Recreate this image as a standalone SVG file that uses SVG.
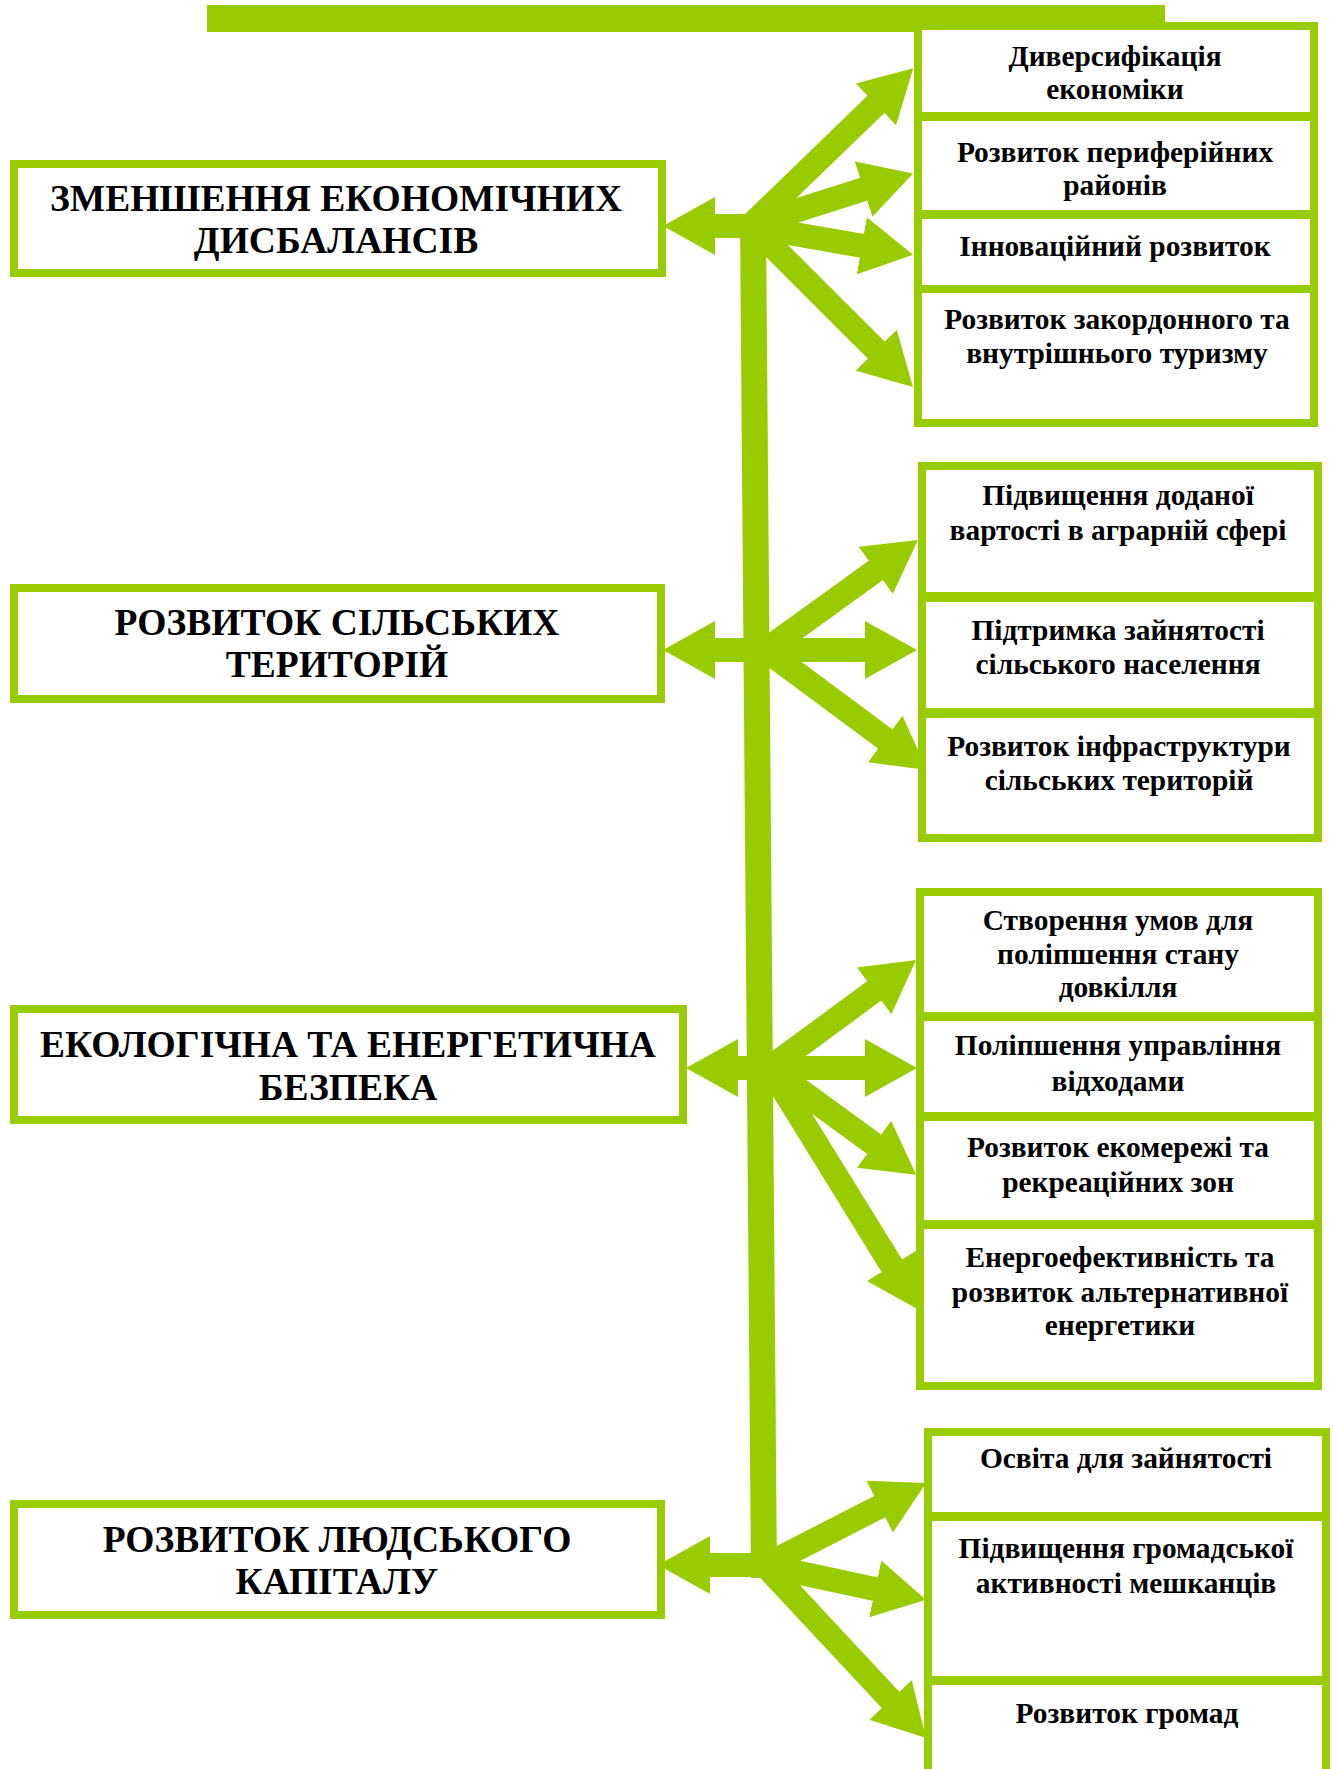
<svg xmlns="http://www.w3.org/2000/svg" width="1333" height="1769" viewBox="0 0 1333 1769">
  <style>
    .box { fill: #ffffff; stroke: #99CC00; stroke-width: 8; }
    .shaft { stroke: #99CC00; stroke-width: 24; fill: none; stroke-linecap: butt; }
    .trunk { stroke: #99CC00; stroke-width: 26; fill: none; }
    .big { font-family: "Liberation Serif", "Times New Roman", serif; font-weight: bold; font-size: 37.5px; fill: #000; text-anchor: middle; }
    .small { font-family: "Liberation Serif", "Times New Roman", serif; font-weight: bold; font-size: 29.4px; fill: #000; text-anchor: middle; }
  </style>
  <defs>
    <marker id="head" markerUnits="userSpaceOnUse" markerWidth="52" markerHeight="58" refX="2" refY="29" orient="auto">
      <path d="M0,0 L52,29 L0,58 Z" fill="#99CC00"/>
    </marker>
  </defs>
  <rect width="1333" height="1769" fill="#ffffff"/>

  <g id="top-bar">
    <rect x="207" y="5" width="958" height="27" fill="#99CC00"/>
  </g>

  <g id="connectors">
    <line class="trunk" x1="753" y1="220" x2="764" y2="1578"/>
    <!-- group 1 -->
    <line class="shaft" x1="758" y1="226" x2="713" y2="226" marker-end="url(#head)"/>
    <line class="shaft" x1="748" y1="228" x2="877.3" y2="103" marker-end="url(#head)"/>
    <line class="shaft" x1="748" y1="226" x2="865.5" y2="188.6" marker-end="url(#head)"/>
    <line class="shaft" x1="748" y1="226" x2="863.8" y2="246.1" marker-end="url(#head)"/>
    <line class="shaft" x1="748" y1="222" x2="877.6" y2="351.6" marker-end="url(#head)"/>
    <!-- group 2 -->
    <line class="shaft" x1="770" y1="650" x2="713" y2="650" marker-end="url(#head)"/>
    <line class="shaft" x1="760" y1="654" x2="877.4" y2="569.2" marker-end="url(#head)"/>
    <line class="shaft" x1="760" y1="650" x2="867" y2="650" marker-end="url(#head)"/>
    <line class="shaft" x1="760" y1="646" x2="886.8" y2="740.2" marker-end="url(#head)"/>
    <!-- group 3 -->
    <line class="shaft" x1="775" y1="1068" x2="736" y2="1068" marker-end="url(#head)"/>
    <line class="shaft" x1="764" y1="1072" x2="875.8" y2="989.7" marker-end="url(#head)"/>
    <line class="shaft" x1="764" y1="1068" x2="867" y2="1068" marker-end="url(#head)"/>
    <line class="shaft" x1="764" y1="1064" x2="875.7" y2="1145.4" marker-end="url(#head)"/>
    <line class="shaft" x1="766" y1="1062" x2="892.8" y2="1267.4" marker-end="url(#head)"/>
    <!-- group 4 -->
    <line class="shaft" x1="772" y1="1565" x2="708" y2="1565" marker-end="url(#head)"/>
    <line class="shaft" x1="758" y1="1569" x2="881.5" y2="1505.7" marker-end="url(#head)"/>
    <line class="shaft" x1="758" y1="1564" x2="877.2" y2="1589.4" marker-end="url(#head)"/>
    <line class="shaft" x1="760" y1="1560" x2="891.9" y2="1701.4" marker-end="url(#head)"/>
  </g>

  <!-- left nodes -->
  <g id="node-disbalance">
    <rect class="box" x="14" y="164" width="648" height="109"/>
    <text class="big" x="336" y="211">ЗМЕНШЕННЯ ЕКОНОМІЧНИХ</text>
    <text class="big" x="336" y="253">ДИСБАЛАНСІВ</text>
  </g>
  <g id="node-rural">
    <rect class="box" x="14" y="588" width="647" height="111"/>
    <text class="big" x="337" y="635">РОЗВИТОК СІЛЬСЬКИХ</text>
    <text class="big" x="337" y="677">ТЕРИТОРІЙ</text>
  </g>
  <g id="node-ecology">
    <rect class="box" x="14" y="1009" width="669" height="111"/>
    <text class="big" x="348" y="1057">ЕКОЛОГІЧНА ТА ЕНЕРГЕТИЧНА</text>
    <text class="big" x="348" y="1100">БЕЗПЕКА</text>
  </g>
  <g id="node-human">
    <rect class="box" x="14" y="1504" width="647" height="111"/>
    <text class="big" x="337" y="1552">РОЗВИТОК ЛЮДСЬКОГО</text>
    <text class="big" x="337" y="1594">КАПІТАЛУ</text>
  </g>

  <!-- group 1 right nodes -->
  <g id="node-diversification">
    <rect class="box" x="918" y="26" width="396" height="90"/>
    <text class="small" x="1115" y="66">Диверсифікація</text>
    <text class="small" x="1115" y="99">економіки</text>
  </g>
  <g id="node-peripheral">
    <rect class="box" x="918" y="117" width="396" height="97"/>
    <text class="small" x="1115" y="162">Розвиток периферійних</text>
    <text class="small" x="1115" y="195">районів</text>
  </g>
  <g id="node-innovation">
    <rect class="box" x="918" y="215" width="396" height="74"/>
    <text class="small" x="1115" y="256">Інноваційний розвиток</text>
  </g>
  <g id="node-tourism">
    <rect class="box" x="918" y="289" width="396" height="134"/>
    <text class="small" x="1117" y="329">Розвиток закордонного та</text>
    <text class="small" x="1117" y="363">внутрішнього туризму</text>
  </g>

  <!-- group 2 right nodes -->
  <g id="node-agro">
    <rect class="box" x="922" y="466" width="396" height="130"/>
    <text class="small" x="1118" y="505">Підвищення доданої</text>
    <text class="small" x="1118" y="540">вартості в аграрній сфері</text>
  </g>
  <g id="node-employment-rural">
    <rect class="box" x="922" y="598" width="396" height="114"/>
    <text class="small" x="1118" y="640">Підтримка зайнятості</text>
    <text class="small" x="1118" y="674">сільського населення</text>
  </g>
  <g id="node-infrastructure">
    <rect class="box" x="922" y="714" width="396" height="124"/>
    <text class="small" x="1119" y="756">Розвиток інфраструктури</text>
    <text class="small" x="1119" y="790">сільських територій</text>
  </g>

  <!-- group 3 right nodes -->
  <g id="node-environment">
    <rect class="box" x="920" y="892" width="398" height="124"/>
    <text class="small" x="1118" y="930">Створення умов для</text>
    <text class="small" x="1118" y="964">поліпшення стану</text>
    <text class="small" x="1118" y="997">довкілля</text>
  </g>
  <g id="node-waste">
    <rect class="box" x="920" y="1017" width="398" height="99"/>
    <text class="small" x="1118" y="1055">Поліпшення управління</text>
    <text class="small" x="1118" y="1091">відходами</text>
  </g>
  <g id="node-econet">
    <rect class="box" x="920" y="1117" width="398" height="107"/>
    <text class="small" x="1118" y="1157">Розвиток екомережі та</text>
    <text class="small" x="1118" y="1192">рекреаційних зон</text>
  </g>
  <g id="node-energy">
    <rect class="box" x="920" y="1225" width="398" height="161"/>
    <text class="small" x="1120" y="1267">Енергоефективність та</text>
    <text class="small" x="1120" y="1302">розвиток альтернативної</text>
    <text class="small" x="1120" y="1335">енергетики</text>
  </g>

  <!-- group 4 right nodes -->
  <g id="node-education">
    <rect class="box" x="928" y="1432" width="398" height="84"/>
    <text class="small" x="1126" y="1468">Освіта для зайнятості</text>
  </g>
  <g id="node-civic">
    <rect class="box" x="928" y="1517" width="398" height="163"/>
    <text class="small" x="1126" y="1558">Підвищення громадської</text>
    <text class="small" x="1126" y="1593">активності мешканців</text>
  </g>
  <g id="node-communities">
    <rect class="box" x="928" y="1681" width="398" height="200"/>
    <text class="small" x="1127" y="1723">Розвиток громад</text>
  </g>
</svg>
